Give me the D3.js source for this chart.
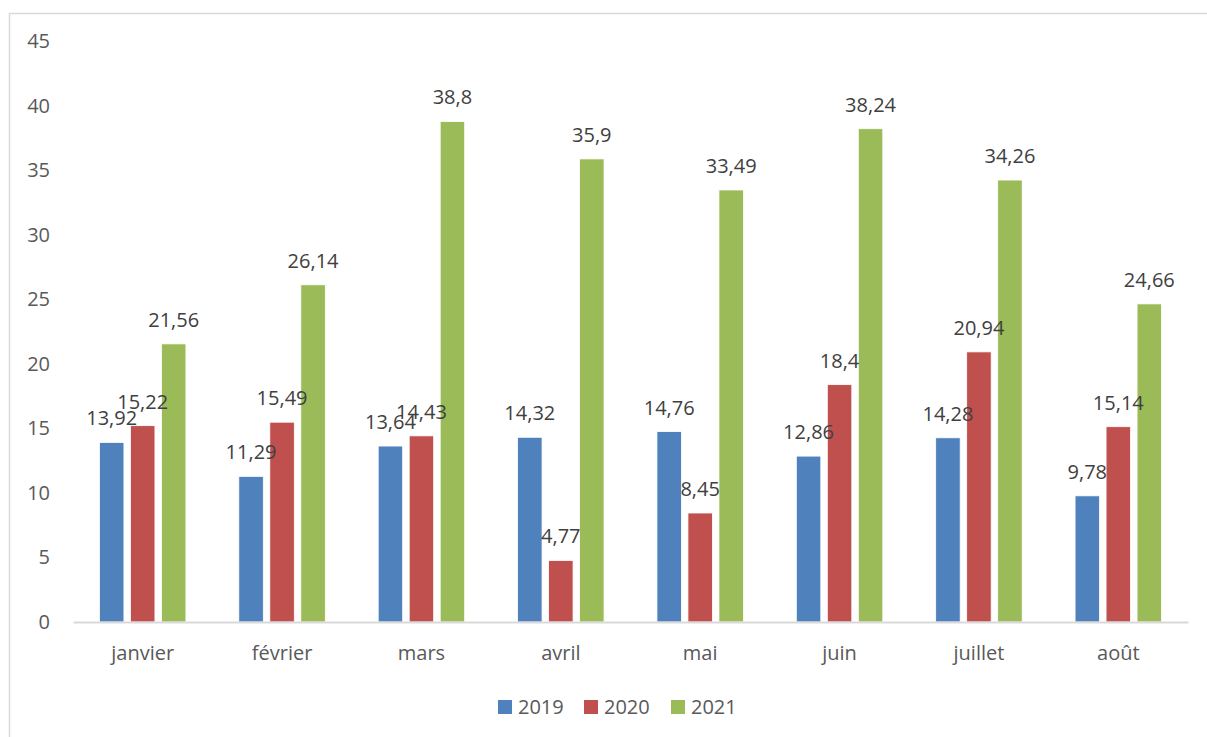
<!DOCTYPE html>
<html lang="fr">
<head>
  <meta charset="UTF-8">
  <style>
    body { margin: 0; background: #fff; }
    svg text { font-family: "Open Sans", "Noto Sans", sans-serif; }
    .axis-y text { fill: #595959; font-size: 20px; }
    .axis-x text { fill: #595959; font-size: 20px; }
    .label { fill: #404040; font-size: 20px; }
    .legend text { fill: #595959; font-size: 20px; }
  </style>
  <script src="https://d3js.org/d3.v7.min.js"></script>
</head>
<body>
<svg id="chart"></svg>
<script>
var months = ['janvier', 'février', 'mars', 'avril', 'mai', 'juin', 'juillet', 'août'];
var years = ['2019', '2020', '2021'];
var values2019 = [13.92, 11.29, 13.64, 14.32, 14.76, 12.86, 14.28, 9.78];
var values2020 = [15.22, 15.49, 14.43, 4.77, 8.45, 18.4, 20.94, 15.14];
var values2021 = [21.56, 26.14, 38.8, 35.9, 33.49, 38.24, 34.26, 24.66];
var yTicks = [0, 5, 10, 15, 20, 25, 30, 35, 40, 45];
var colors = ['#4f81bd', '#c0504d', '#9bbb59'];

var series = [values2019, values2020, values2021];
var size = {width: 1207, height: 737};
var margin = {top: 41.5, left: 73, right: 19, bottom: 115};

var svg = d3.select('#chart')
  .attr('width', size.width)
  .attr('height', size.height);

// outer frame
svg.append('rect')
  .attr('x', 9.5).attr('y', 13.5)
  .attr('width', size.width + 10).attr('height', size.height + 10)
  .attr('fill', 'none')
  .attr('stroke', '#d9d9d9')
  .attr('stroke-width', 1.5);

var x = d3.scaleBand()
  .domain(months)
  .range([margin.left, size.width - margin.right])
  .padding(0);

var y = d3.scaleLinear()
  .domain([0, 45])
  .range([size.height - margin.bottom, margin.top]);

var barW = 24.5, barStep = 31;

function barX(si, i) {
  return x(months[i]) + x.bandwidth() / 2 + (si - 1) * barStep;
}

// y axis labels
var yAxis = d3.axisLeft(y).tickValues(yTicks).tickSize(0).tickPadding(23);
svg.append('g')
  .attr('class', 'axis-y')
  .attr('transform', 'translate(' + margin.left + ',0)')
  .call(yAxis)
  .call(function(g) { g.select('.domain').remove(); });

// bars
var groups = svg.selectAll('.series')
  .data(series)
  .enter()
  .append('g')
  .attr('class', 'series')
  .attr('fill', function(d, i) { return colors[i]; });

groups.each(function(vals, si) {
  d3.select(this).selectAll('rect')
    .data(vals)
    .enter()
    .append('rect')
    .attr('x', function(d, i) { return barX(si, i) - barW / 2; })
    .attr('y', function(d) { return y(d); })
    .attr('width', barW)
    .attr('height', function(d) { return y(0) - y(d); })
    .attr('stroke', '#fff')
    .attr('stroke-width', 0.8);
});

// axis line
var xAxis = d3.axisBottom(x).tickSize(0).tickPadding(24);
svg.append('g')
  .attr('class', 'axis-x')
  .attr('transform', 'translate(0,' + y(0) + ')')
  .call(xAxis)
  .call(function(g) {
    g.select('.domain').attr('stroke', '#d9d9d9').attr('stroke-width', 2);
  });

// data labels, on top of all bars
var labels = svg.append('g');
series.forEach(function(vals, si) {
  labels.selectAll('.label-' + si)
    .data(vals)
    .enter()
    .append('text')
    .attr('class', 'label label-' + si)
    .attr('x', function(d, i) { return barX(si, i); })
    .attr('y', function(d) { return y(d) - 17; })
    .attr('text-anchor', 'middle')
    .text(function(d) { return String(d).replace('.', ','); });
});

// legend
var legendX = [498, 584, 671];
var legend = svg.selectAll('.legend')
  .data(years)
  .enter()
  .append('g')
  .attr('class', 'legend')
  .attr('transform', function(d, i) { return 'translate(' + legendX[i] + ',707)'; });

legend.append('rect')
  .attr('x', 0).attr('y', -7)
  .attr('width', 14).attr('height', 14)
  .attr('fill', function(d, i) { return colors[i]; });

legend.append('text')
  .attr('x', 20)
  .attr('dy', '0.35em')
  .text(function(d) { return d; });
</script>
</body>
</html>
